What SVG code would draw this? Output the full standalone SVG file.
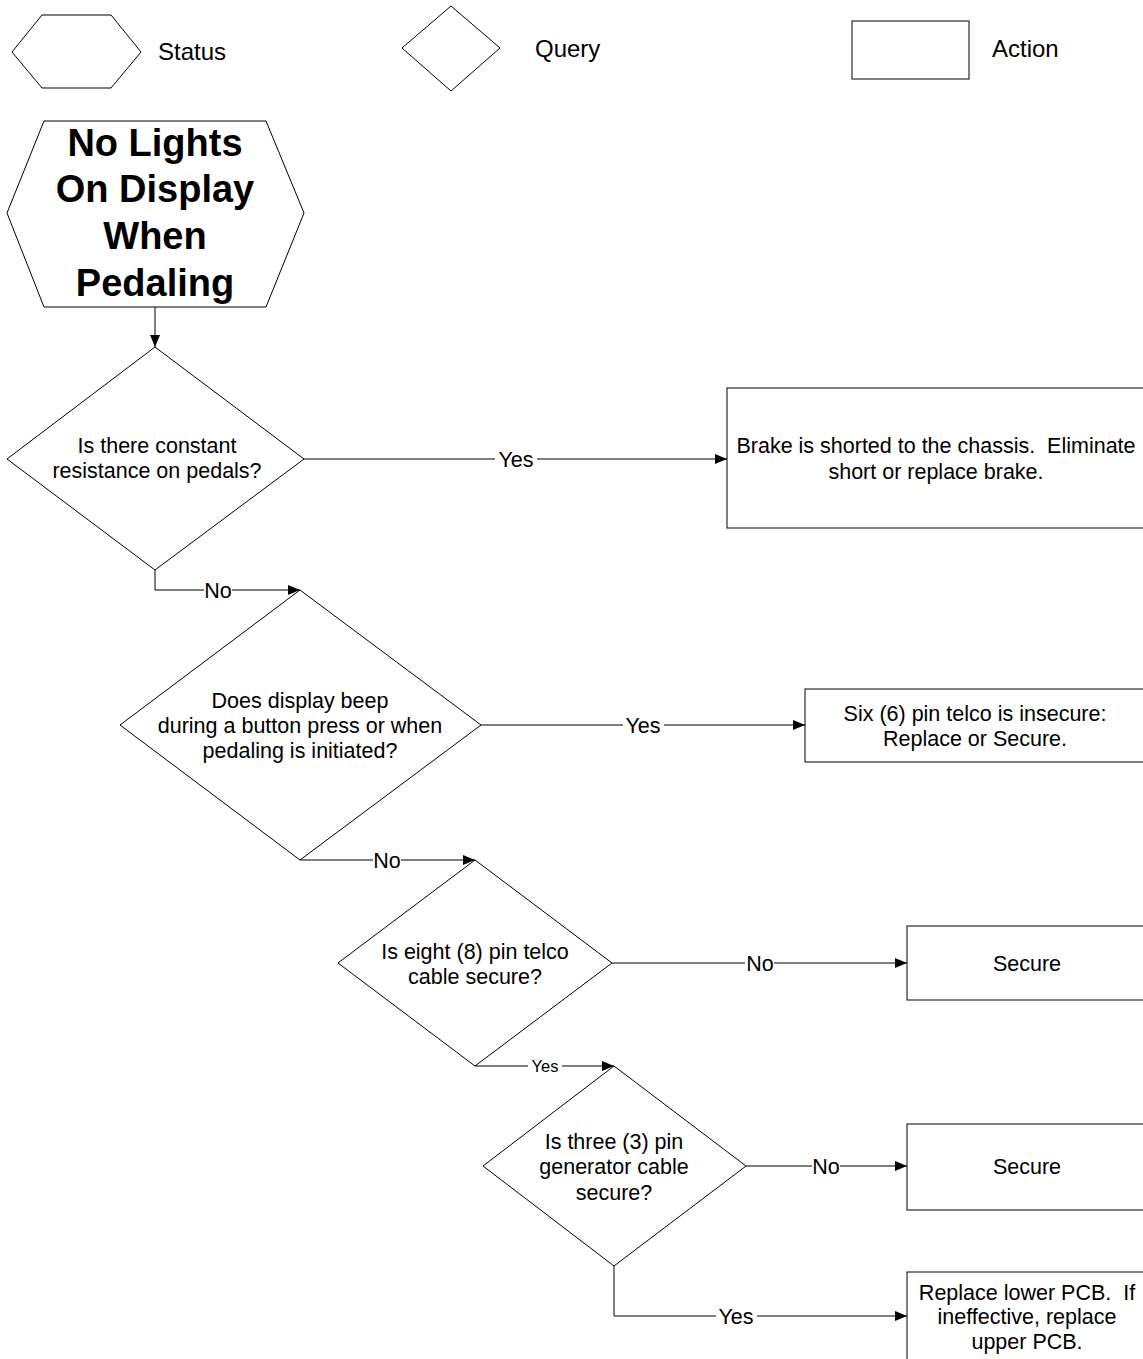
<svg xmlns="http://www.w3.org/2000/svg" width="1143" height="1359" viewBox="0 0 1143 1359">
<style>
.shape{fill:#fff;stroke:#000;stroke-width:1}
.conn{fill:none;stroke:#000;stroke-width:1}
.arr{marker-end:url(#ah)}
text{font-family:"Liberation Sans",Arial,sans-serif;fill:#000;text-anchor:middle;white-space:pre}
.t{font-size:21.5px}
.lg{font-size:24px;text-anchor:start}
.big{font-size:38px;font-weight:bold}
.sm{font-size:16.5px}
</style>
<defs>
<marker id="ah" viewBox="0 0 12 10" refX="12" refY="5" markerWidth="12" markerHeight="10" markerUnits="userSpaceOnUse" orient="auto">
<path d="M0,0 L12,5 L0,10 z" fill="#000"/>
</marker>
</defs>
<rect width="1143" height="1359" fill="#fff"/>

<g id="legend">
<g id="legend-status">
<polygon class="shape" points="12,52 42,15 111,15 141,52 111,88 42,88"/>
<text class="lg" x="158" y="52" dy="0.35em">Status</text>
</g>
<g id="legend-query">
<polygon class="shape" points="402,48 451,6 500,48 451,91"/>
<text class="lg" x="535" y="49" dy="0.35em">Query</text>
</g>
<g id="legend-action">
<rect class="shape" x="852" y="21" width="117" height="58"/>
<text class="lg" x="992" y="49" dy="0.35em">Action</text>
</g>
</g>

<g id="connectors">
<line class="conn arr" x1="155" y1="307" x2="155" y2="347"/>
<line class="conn" x1="304" y1="459" x2="495" y2="459"/>
<text class="t" x="516" y="459" dy="0.35em">Yes</text>
<line class="conn arr" x1="537" y1="459" x2="727" y2="459"/>
<polyline class="conn" points="155,570 155,590 204,590"/>
<text class="t" x="218" y="590" dy="0.35em">No</text>
<line class="conn arr" x1="232" y1="590" x2="300" y2="590"/>
<line class="conn" x1="481" y1="725" x2="623" y2="725"/>
<text class="t" x="643" y="725" dy="0.35em">Yes</text>
<line class="conn arr" x1="664" y1="725" x2="805" y2="725"/>
<line class="conn" x1="300" y1="860" x2="373" y2="860"/>
<text class="t" x="387" y="860" dy="0.35em">No</text>
<line class="conn arr" x1="401" y1="860" x2="475" y2="860"/>
<line class="conn" x1="612" y1="963" x2="745" y2="963"/>
<text class="t" x="760" y="963" dy="0.35em">No</text>
<line class="conn arr" x1="774" y1="963" x2="907" y2="963"/>
<line class="conn" x1="475" y1="1066" x2="528" y2="1066"/>
<text class="sm" x="545" y="1066" dy="0.35em">Yes</text>
<line class="conn arr" x1="562" y1="1066" x2="614" y2="1066"/>
<line class="conn" x1="746" y1="1166" x2="812" y2="1166"/>
<text class="t" x="826" y="1166" dy="0.35em">No</text>
<line class="conn arr" x1="840" y1="1166" x2="907" y2="1166"/>
<polyline class="conn" points="614,1266 614,1316 716,1316"/>
<text class="t" x="736" y="1316" dy="0.35em">Yes</text>
<line class="conn arr" x1="757" y1="1316" x2="907" y2="1316"/>
</g>

<g id="status-main">
<polygon class="shape" points="7,213 44,121 266,121 304,213 266,307 44,307"/>
<text class="big" x="155" y="143" dy="0.35em">No Lights</text>
<text class="big" x="155" y="189" dy="0.35em">On Display</text>
<text class="big" x="155" y="236" dy="0.35em">When</text>
<text class="big" x="155" y="283" dy="0.35em">Pedaling</text>
</g>

<g id="q1">
<polygon class="shape" points="155,347 304,459 155,570 7,459"/>
<text class="t" x="157" y="445" dy="0.35em">Is there constant</text>
<text class="t" x="157" y="470" dy="0.35em">resistance on pedals?</text>
</g>

<g id="a1">
<rect class="shape" x="727" y="388" width="418" height="140"/>
<text class="t" x="936" y="445" dy="0.35em">Brake is shorted to the chassis.  Eliminate</text>
<text class="t" x="936" y="471" dy="0.35em">short or replace brake.</text>
</g>

<g id="q2">
<polygon class="shape" points="300,590 481,725 300,860 120,725"/>
<text class="t" x="300" y="700" dy="0.35em">Does display beep</text>
<text class="t" x="300" y="725" dy="0.35em">during a button press or when</text>
<text class="t" x="300" y="750" dy="0.35em">pedaling is initiated?</text>
</g>

<g id="a2">
<rect class="shape" x="805" y="689" width="340" height="73"/>
<text class="t" x="975" y="713" dy="0.35em">Six (6) pin telco is insecure:</text>
<text class="t" x="975" y="738" dy="0.35em">Replace or Secure.</text>
</g>

<g id="q3">
<polygon class="shape" points="475,860 612,963 475,1066 338,963"/>
<text class="t" x="475" y="951" dy="0.35em">Is eight (8) pin telco</text>
<text class="t" x="475" y="976" dy="0.35em">cable secure?</text>
</g>

<g id="a3">
<rect class="shape" x="907" y="926" width="238" height="74"/>
<text class="t" x="1027" y="963" dy="0.35em">Secure</text>
</g>

<g id="q4">
<polygon class="shape" points="614,1066 746,1166 614,1266 483,1166"/>
<text class="t" x="614" y="1141" dy="0.35em">Is three (3) pin</text>
<text class="t" x="614" y="1166" dy="0.35em">generator cable</text>
<text class="t" x="614" y="1192" dy="0.35em">secure?</text>
</g>

<g id="a4">
<rect class="shape" x="907" y="1124" width="238" height="86"/>
<text class="t" x="1027" y="1166" dy="0.35em">Secure</text>
</g>

<g id="a5">
<rect class="shape" x="907" y="1272" width="238" height="100"/>
<text class="t" x="1027" y="1292" dy="0.35em">Replace lower PCB.  If</text>
<text class="t" x="1027" y="1316" dy="0.35em">ineffective, replace</text>
<text class="t" x="1027" y="1341" dy="0.35em">upper PCB.</text>
</g>
</svg>
